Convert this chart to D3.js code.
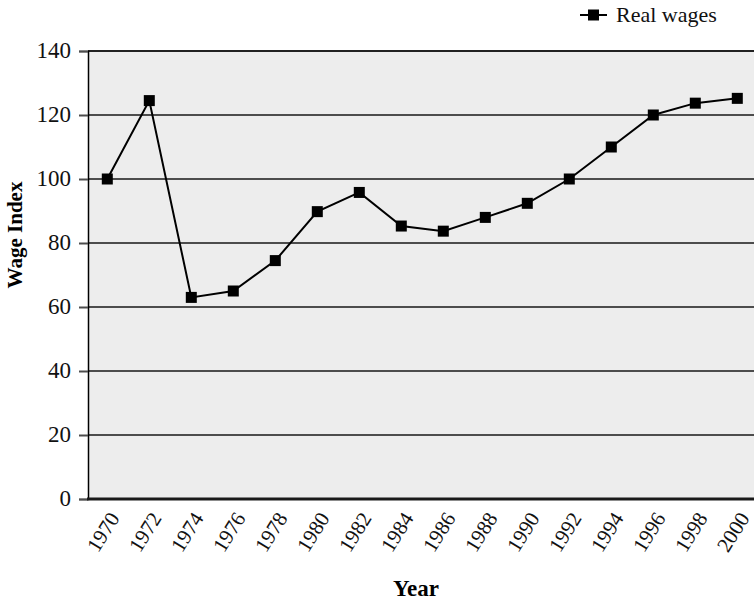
<!DOCTYPE html>
<html>
<head>
<meta charset="utf-8">
<script src="https://cdn.jsdelivr.net/npm/d3@7"></script>
<style>
  html, body { margin: 0; padding: 0; background: #ffffff; }
  svg { display: block; }
  svg text { font-family: "Liberation Serif", "Times New Roman", "DejaVu Serif", serif !important; }
</style>
</head>
<body>
<svg id="chart" width="754" height="601"></svg>
<script>
// Real wage index, every second year
const years = ["1970", "1972", "1974", "1976", "1978", "1980", "1982", "1984",
               "1986", "1988", "1990", "1992", "1994", "1996", "1998", "2000"];
const realWages = [100, 124.5, 63, 65, 74.5, 89.8, 95.8, 85.3,
                   83.7, 88, 92.4, 100, 110, 120, 123.7, 125.2];
const yTicks = [0, 20, 40, 60, 80, 100, 120, 140];
const seriesName = "Real wages";

const svg = d3.select("#chart");
const plot = { left: 88, right: 760, top: 51, bottom: 499 };

const x = d3.scalePoint().domain(years).range([107.3, 737.3]);
const y = d3.scaleLinear().domain([0, 140]).range([plot.bottom, plot.top]);

// plot area background
svg.append("rect")
  .attr("x", plot.left).attr("y", plot.top)
  .attr("width", plot.right - plot.left).attr("height", plot.bottom - plot.top)
  .attr("fill", "#ededed");

// horizontal gridlines
svg.append("g").selectAll("line")
  .data(yTicks.filter(d => d > 0))
  .join("line")
  .attr("x1", plot.left).attr("x2", plot.right)
  .attr("y1", d => y(d)).attr("y2", d => y(d))
  .attr("stroke", d => d === 140 ? "#222" : "#4d4d4d")
  .attr("stroke-width", 2);

// y axis
const yAxis = svg.append("g")
  .attr("transform", `translate(${plot.left},0)`)
  .call(d3.axisLeft(y).tickValues(yTicks).tickSize(9).tickPadding(8));
yAxis.attr("font-family", null).attr("font-size", null);
yAxis.select(".domain").attr("stroke", "#000").attr("stroke-width", 1.5);
yAxis.selectAll(".tick line").attr("stroke", "#4d4d4d").attr("stroke-width", 2);
yAxis.selectAll(".tick text")
  .attr("font-size", 23).attr("fill", "#111").attr("dy", "0.28em");

// x axis baseline
svg.append("line")
  .attr("x1", plot.left - 1).attr("x2", plot.right)
  .attr("y1", y(0)).attr("y2", y(0))
  .attr("stroke", "#1a1a1a").attr("stroke-width", 3);

// rotated year labels
svg.append("g").selectAll("text")
  .data(years)
  .join("text")
  .attr("transform", d => `translate(${x(d) + 13},518) rotate(-58)`)
  .attr("text-anchor", "end")
  .attr("font-size", 21)
  .attr("fill", "#111")
  .text(d => d);

// series line
const line = d3.line()
  .x((d, i) => x(years[i]))
  .y(d => y(d));
svg.append("path")
  .datum(realWages)
  .attr("d", line)
  .attr("fill", "none")
  .attr("stroke", "#000")
  .attr("stroke-width", 2);

// square markers
const m = 11;
svg.append("g").selectAll("rect")
  .data(realWages)
  .join("rect")
  .attr("x", (d, i) => x(years[i]) - m / 2)
  .attr("y", d => y(d) - m / 2)
  .attr("width", m).attr("height", m)
  .attr("fill", "#000");

// axis titles
svg.append("text")
  .attr("x", 416).attr("y", 596)
  .attr("text-anchor", "middle")
  .attr("font-size", 23).attr("font-weight", "bold")
  .text("Year");

svg.append("text")
  .attr("transform", "translate(22,235) rotate(-90)")
  .attr("text-anchor", "middle")
  .attr("font-size", 21).attr("font-weight", "bold")
  .text("Wage Index");

// legend
const legend = svg.append("g").attr("transform", "translate(580,15)");
legend.append("line")
  .attr("x1", 0).attr("x2", 27).attr("y1", 0).attr("y2", 0)
  .attr("stroke", "#000").attr("stroke-width", 2);
legend.append("rect")
  .attr("x", 13.5 - m / 2).attr("y", -m / 2)
  .attr("width", m).attr("height", m).attr("fill", "#000");
legend.append("text")
  .attr("x", 36).attr("y", 6.5)
  .attr("font-size", 22).attr("fill", "#111")
  .text(seriesName);
</script>
</body>
</html>
